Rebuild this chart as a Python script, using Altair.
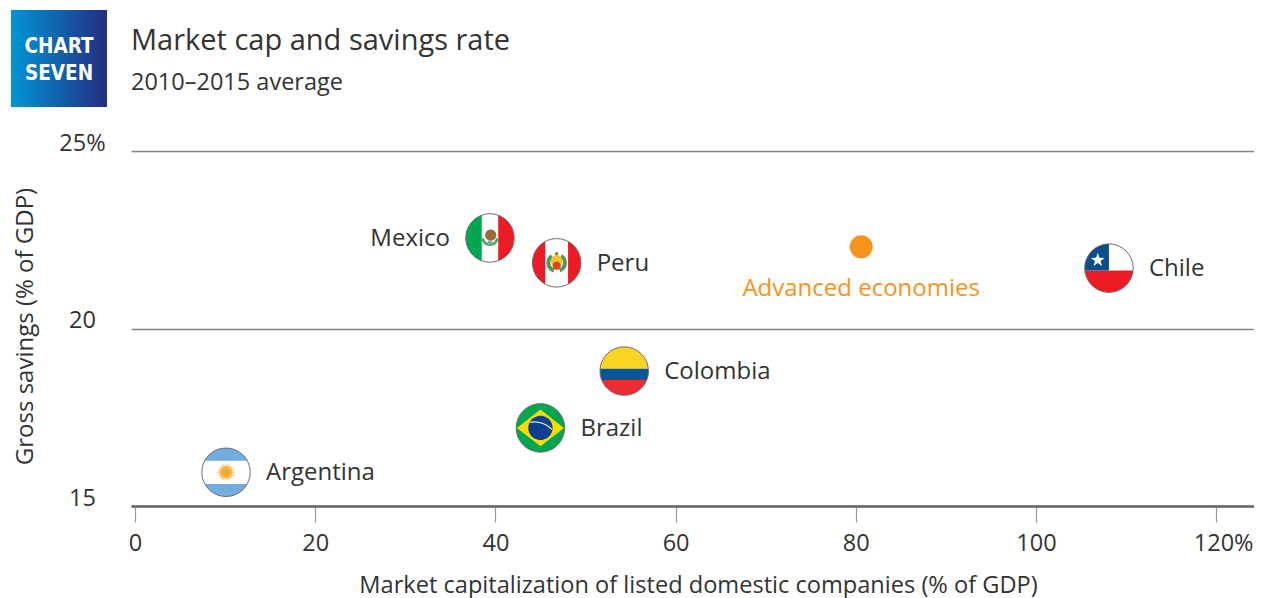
import math
import altair as alt
import pandas as pd

FONT = "Open Sans"
INK = "#333333"

# ---- values
countries = ["Mexico", "Peru", "Chile", "Colombia", "Brazil", "Argentina"]
cap_values = [39.4, 46.8, 108.1, 54.3, 45.0, 10.1]
savings_values = [22.55, 21.85, 21.7, 18.8, 17.2, 15.95]
advanced_cap = [80.6]
advanced_savings = [22.3]
x_ticks = [0, 20, 40, 60, 80, 100, 120]
y_ticks = [15, 20, 25]

df = pd.DataFrame({"name": countries, "cap": cap_values, "sav": savings_values})
adv = pd.DataFrame({"name": ["Advanced economies"], "cap": advanced_cap, "sav": advanced_savings})

X_SCALE = alt.Scale(domain=[-0.444, 124.2], nice=False, zero=False)
Y_SCALE = alt.Scale(domain=[15, 25], nice=False, zero=False)
FLAG_SIZE = 48.5 ** 2


# ---- flag artwork in a unit circle (shape paths, y points down)
def poly(pts):
    return "M" + "L".join(f"{x:.3f},{y:.3f}" for x, y in pts) + "Z"


def disc(cx=0.0, cy=0.0, r=1.0, n=48):
    return poly([(cx + r * math.cos(2 * math.pi * i / n), cy + r * math.sin(2 * math.pi * i / n)) for i in range(n)])


def hband(y1, y2, n=24):
    ys = [y1 + (y2 - y1) * i / n for i in range(n + 1)]
    left = [(-math.sqrt(max(0, 1 - y * y)), y) for y in ys]
    right = [(math.sqrt(max(0, 1 - y * y)), y) for y in reversed(ys)]
    return poly(left + right)


def vband(x1, x2, n=24):
    xs = [x1 + (x2 - x1) * i / n for i in range(n + 1)]
    top = [(x, -math.sqrt(max(0, 1 - x * x))) for x in xs]
    bot = [(x, math.sqrt(max(0, 1 - x * x))) for x in reversed(xs)]
    return poly(top + bot)


def star(cx, cy, ro, ri, k):
    pts = []
    for i in range(2 * k):
        r = ro if i % 2 == 0 else ri
        a = -math.pi / 2 + math.pi * i / k
        pts.append((cx + r * math.cos(a), cy + r * math.sin(a)))
    return poly(pts)


def canton():
    pts = [(0, 0.1), (0, -1)]
    for i in range(1, 25):
        a = -math.pi / 2 - (math.pi / 2) * i / 24
        pts.append((math.cos(a), math.sin(a)))
    pts.append((-math.sqrt(1 - 0.01), 0.1))
    return poly(pts)


def arc_band(cx, cy, r1, r2, a1, a2, n=20):
    angs = [a1 + (a2 - a1) * i / n for i in range(n + 1)]
    o = [(cx + r2 * math.cos(a), cy + r2 * math.sin(a)) for a in angs]
    i_ = [(cx + r1 * math.cos(a), cy + r1 * math.sin(a)) for a in reversed(angs)]
    return poly(o + i_)


RED = "#ed1c24"
FLAG_ART = {
    "Mexico": [
        (disc(), "#ffffff"), (vband(-1, -0.34), "#00a651"), (vband(0.34, 1), RED),
        (arc_band(0, -0.02, 0.24, 0.36, 0.1, 3.04), "#5aa860"),
        (disc(0.03, -0.12, 0.23), "#9a6a3a"), (disc(0, 0.2, 0.1), "#7aa8a0"),
    ],
    "Peru": [
        (disc(), "#ffffff"), (vband(-1, -0.47), RED), (vband(0.47, 1), RED),
        (arc_band(0, 0, 0.26, 0.42, -1.0, 1.2), "#4f9a55"),
        (arc_band(0, 0, 0.26, 0.42, 1.9, 4.1), "#4f9a55"),
        (disc(0, -0.08, 0.24), "#f2c230"), (disc(0, 0.12, 0.17), "#e2432a"),
        (disc(0, -0.38, 0.07), "#7a8a30"),
    ],
    "Chile": [
        (disc(), "#ffffff"), (hband(0.1, 1), RED), (canton(), "#0b4f8a"),
        (star(-0.46, -0.33, 0.3, 0.12, 5), "#ffffff"),
    ],
    "Colombia": [
        (hband(-1, -0.1), "#f9d423"), (hband(-0.1, 0.37), "#05559e"), (hband(0.37, 1), "#ee2b34"),
    ],
    "Brazil": [
        (disc(), "#00a650"),
        (poly([(-0.97, 0), (0, -0.76), (0.97, 0), (0, 0.76)]), "#fcdc00"),
        (disc(0, 0, 0.5), "#0b3f8f"),
        (arc_band(-0.25, 0.75, 0.97, 1.02, -1.75, -0.76), "#d8efe8"),
    ],
    "Argentina": [
        (disc(), "#ffffff"), (hband(-1, -0.48), "#74acdf"), (hband(0.48, 1), "#74acdf"),
        (star(0, 0, 0.4, 0.26, 16), "#fcd288"), (disc(0, 0, 0.25), "#f5b642"), (disc(0, 0, 0.14), "#e8a838"),
    ],
}

X_AXIS = alt.Axis(
    values=x_ticks, title="Market capitalization of listed domestic companies (% of GDP)",
    grid=False, domainColor="#666666", domainWidth=2.5, tickColor="#999999", tickWidth=1.2, tickSize=16,
    labelFont=FONT, labelFontSize=23.5, labelColor=INK, labelPadding=9,
    labelExpr="datum.value == 120 ? '120%' : datum.label",
    labelOffset={"condition": {"test": "datum.value == 120", "value": 7}, "value": 0},
    titleFont=FONT, titleFontSize=23.6, titleFontWeight="normal", titleColor=INK,
    titleX=567, titleY=79, titleBaseline="middle", titleAlign="center",
)
Y_AXIS = alt.Axis(
    values=y_ticks, title="Gross savings (% of GDP)", domain=False, ticks=False,
    grid=True, gridColor="#858585", gridWidth=1.3,
    labelFont=FONT, labelFontSize=23.5, labelColor=INK, labelAlign="center", labelPadding=49,
    labelOffset=-8, labelExpr="datum.value == 25 ? '25%' : datum.label",
    titleFont=FONT, titleFontSize=24, titleFontWeight="normal", titleColor=INK,
    titleX=-105.5, titleY=175, titleBaseline="middle", titleAlign="center",
)


def enc(data_mark):
    return data_mark.encode(
        x=alt.X("cap:Q", scale=X_SCALE, axis=X_AXIS),
        y=alt.Y("sav:Q", scale=Y_SCALE, axis=Y_AXIS),
    )


layers = []

# ---- flags
for name in countries:
    one = df[df["name"] == name]
    for path, fill in FLAG_ART[name]:
        layers.append(enc(alt.Chart(one).mark_point(shape=path, size=FLAG_SIZE, filled=True, fill=fill, opacity=1, strokeWidth=0)))
layers.append(enc(alt.Chart(df).mark_point(shape="circle", size=FLAG_SIZE, filled=False, stroke="#6e6e6e", strokeWidth=1, opacity=1)))

# ---- advanced economies
layers.append(enc(alt.Chart(adv).mark_point(shape="circle", size=530, filled=True, fill="#f7941d", opacity=1, strokeWidth=0)))
layers.append(enc(alt.Chart(adv).mark_text(font=FONT, fontSize=24, color="#f7941d", dy=42)).encode(text="name:N"))

# ---- labels
right = df[df["name"] != "Mexico"]
left = df[df["name"] == "Mexico"]
layers.append(enc(alt.Chart(right).mark_text(font=FONT, fontSize=24, color=INK, align="left", dx=40, dy=1)).encode(text="name:N"))
layers.append(enc(alt.Chart(left).mark_text(font=FONT, fontSize=24, color=INK, align="right", dx=-40, dy=1)).encode(text="name:N"))

# ---- badge
badge_fill = alt.LinearGradient(
    gradient="linear", x1=0, x2=1, y1=0, y2=0,
    stops=[alt.GradientStop(color="#0096d6", offset=0), alt.GradientStop(color="#242d82", offset=1)],
)
one_row = pd.DataFrame({"a": ["CHART"]})
layers.append(alt.Chart(one_row).mark_rect(fill=badge_fill).encode(
    x=alt.value(-120), x2=alt.value(-24), y=alt.value(-141), y2=alt.value(-44)))
for word, ypos in (("CHART", -104), ("SEVEN", -77)):
    layers.append(alt.Chart(pd.DataFrame({"t": [word]})).mark_text(
        font="DejaVu Sans Condensed, Roboto", fontSize=20.5, fontWeight="bold", color="#ffffff", align="center", baseline="middle"
    ).encode(x=alt.value(-72), y=alt.value(ypos), text="t:N"))

# ---- heading
for word, ypos, fs in (("Market cap and savings rate", -110, 29), ("2010–2015 average", -68.5, 23.5)):
    layers.append(alt.Chart(pd.DataFrame({"t": [word]})).mark_text(
        font=FONT, fontSize=fs, color=INK, align="left", baseline="middle"
    ).encode(x=alt.value(0), y=alt.value(ypos), text="t:N"))

chart = alt.layer(*layers).properties(
    width=1123, height=355,
    autosize="none",
    padding={"left": 123, "top": 143, "right": 0, "bottom": 92},
).configure_view(stroke=None)

chart.save("out.html", embed_options={"renderer": "svg", "actions": False})
